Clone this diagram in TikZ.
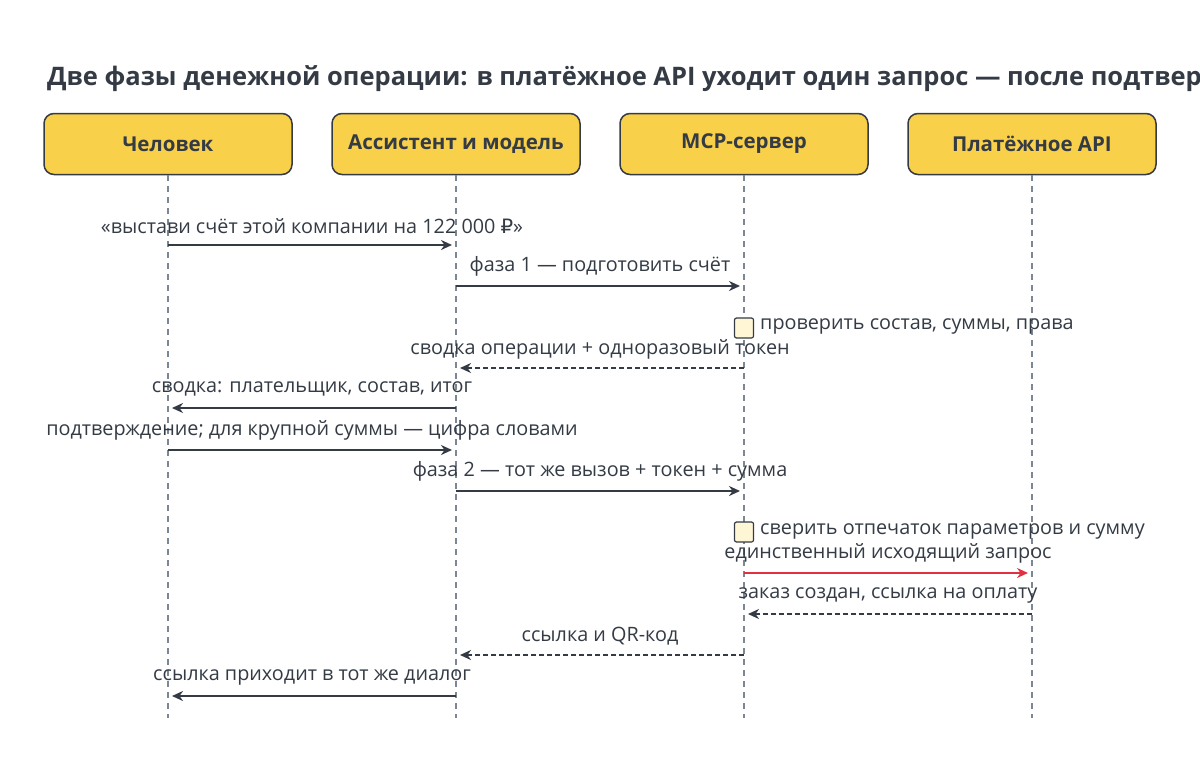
\documentclass[tikz,border=0pt]{standalone}
\usepackage{fontspec}
\setmainfont{Open Sans}
\newfontfamily\dvs{DejaVu Sans}
\usetikzlibrary{arrows.meta}
\definecolor{ink}{HTML}{343B45}
\definecolor{actor}{HTML}{F9D04A}
\definecolor{life}{HTML}{7B8794}
\definecolor{act}{HTML}{FFF6D5}
\definecolor{redm}{HTML}{E03142}
\tikzset{
 actorbox/.style={draw=ink,line width=1.5pt,fill=actor,rounded corners=10pt,minimum width=248pt,minimum height=61pt,font=\fontsize{20.5}{24}\selectfont\bfseries,text=ink},
 lifeline/.style={draw=life,line width=1.2pt,dash pattern=on 6pt off 5pt},
 msg/.style={draw=ink,line width=2.2pt,-{Stealth[length=11pt,width=10pt]}},
 ret/.style={msg,dash pattern=on 5pt off 3pt},
 lbl/.style={font=\fontsize{19.8}{23}\selectfont,text=ink,inner sep=0pt},
 actbox/.style={draw=ink,line width=1.2pt,fill=act,rounded corners=2pt,minimum width=19pt,minimum height=20pt,inner sep=0pt}
}
\begin{document}
\begin{tikzpicture}[x=1pt,y=-1pt]
\useasboundingbox (0,0) rectangle (1200,760);
\clip (0,0) rectangle (1200,760);
\fill[white] (0,0) rectangle (1200,760);
\node[anchor=west,font=\fontsize{25.5}{30}\selectfont\bfseries,text=ink,inner sep=0pt] (title) at (47,79) {Две фазы денежной операции: в платёжное API уходит один запрос — после подтверждения};
\foreach \n/\x/\t in {h/168/Человек,a/456/Ассистент и модель,m/744/MCP-сервер,p/1032/Платёжное API}{
  \node[actorbox] (\n) at (\x,144) {\t};
  \coordinate (\n e) at (\x,718);
  \draw[lifeline] (\n.south) -- (\n e);
}
\foreach \n/\x in {h/168,a/456,m/744,p/1032}{
 \foreach \y in {245,286,368,408,450,491,573,614,655,696}{\coordinate (\n\y) at (\x,\y);}
}
\draw[msg] (h245) -- ([xshift=-4pt]a245);
\node[lbl] (l1) at (312,226) {«выстави счёт этой компании на 122 000 {\dvs ₽}»};
\draw[msg] (a286) -- ([xshift=-4pt]m286);
\node[lbl] (l2) at (600,266) {фаза 1 — подготовить счёт};
\node[actbox] (b1) at (744,328) {};
\node[lbl,anchor=west] (l3) at (760,326) {проверить состав, суммы, права};
\draw[ret] (m368) -- ([xshift=4pt]a368);
\node[lbl] (l4) at (600,349) {сводка операции + одноразовый токен};
\draw[msg] (a408) -- ([xshift=4pt]h408);
\node[lbl] (l5) at (312,389) {сводка: плательщик, состав, итог};
\draw[msg] (h450) -- ([xshift=-4pt]a450);
\node[lbl] (l6) at (312,430) {подтверждение; для крупной суммы — цифра словами};
\draw[msg] (a491) -- ([xshift=-4pt]m491);
\node[lbl] (l7) at (600,471) {фаза 2 — тот же вызов + токен + сумма};
\node[actbox] (b2) at (744,532) {};
\node[lbl,anchor=west] (l8) at (760,531) {сверить отпечаток параметров и сумму};
\draw[msg,draw=redm] (m573) -- ([xshift=-4pt]p573);
\node[lbl] (l9) at (888,553) {единственный исходящий запрос};
\draw[ret] (p614) -- ([xshift=4pt]m614);
\node[lbl] (l10) at (888,595) {заказ создан, ссылка на оплату};
\draw[ret] (m655) -- ([xshift=4pt]a655);
\node[lbl] (l11) at (600,636) {ссылка и QR-код};
\draw[msg] (a696) -- ([xshift=4pt]h696);
\node[lbl] (l12) at (312,677) {ссылка приходит в тот же диалог};
\end{tikzpicture}
\end{document}
